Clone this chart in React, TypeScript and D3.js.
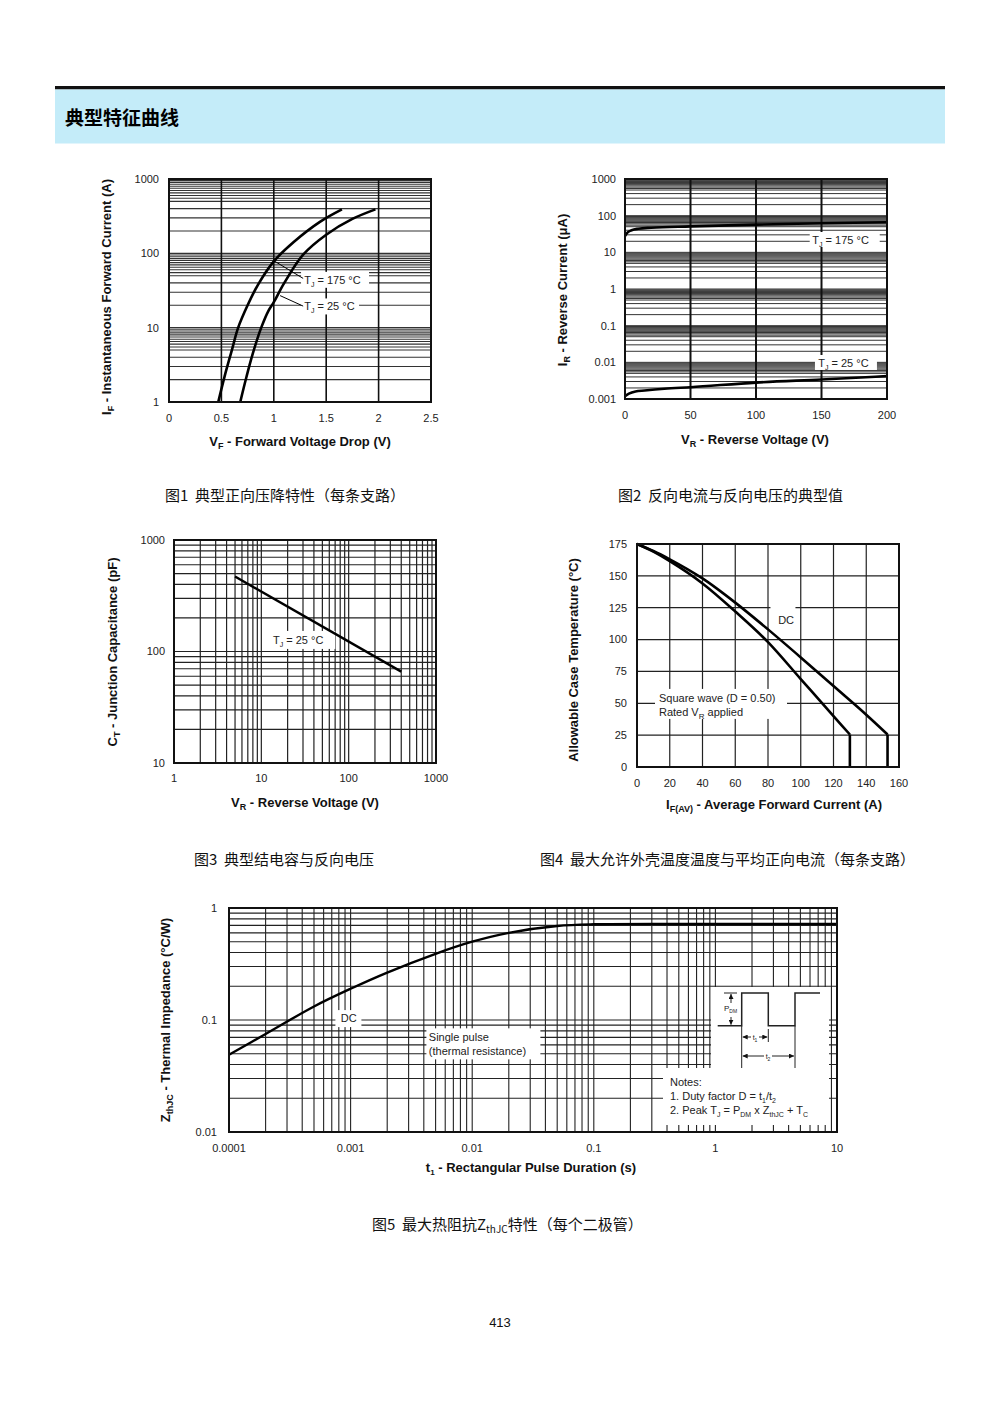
import React from 'react';
import * as d3 from 'd3';

const FONT = '"Liberation Sans", Arial, Helvetica, sans-serif';
const CJK = '"Noto Sans CJK SC", "Noto Sans", sans-serif';

// ---------- Figure 1 : forward characteristics ----------
const fig1XTicks = [0, 0.5, 1, 1.5, 2, 2.5];
const fig1XGrid = [0.5, 1, 1.5, 2];
const fig1YTicks = [1, 10, 100, 1000];
const fig1V175 = [0.47, 0.53, 0.6, 0.66, 0.75, 0.85, 1.0, 1.19, 1.44, 1.65];
const fig1I175 = [1, 2.2, 5, 10, 20, 38, 78, 142, 265, 390];
const fig1V25 = [0.68, 0.74, 0.8, 0.88, 0.95, 1.0, 1.1, 1.28, 1.5, 1.75, 1.97];
const fig1I25 = [1, 2.2, 4.5, 10, 17, 22, 40, 96, 178, 290, 390];

// ---------- Figure 2 : reverse current ----------
const fig2XTicks = [0, 50, 100, 150, 200];
const fig2XGrid = [50, 100, 150];
const fig2YTicks = [0.001, 0.01, 0.1, 1, 10, 100, 1000];
const fig2YLabels = ['0.001', '0.01', '0.1', '1', '10', '100', '1000'];
const fig2V175 = [0, 2, 5, 10, 20, 50, 100, 150, 200];
const fig2I175 = [28, 35, 40, 44, 47, 51, 57, 62, 66];
const fig2V25 = [0, 3, 8, 15, 30, 50, 100, 150, 200];
const fig2I25 = [0.0012, 0.0014, 0.0016, 0.0017, 0.0019, 0.0021, 0.0028, 0.0034, 0.0042];

// ---------- Figure 3 : junction capacitance ----------
const fig3XTicks = [1, 10, 100, 1000];
const fig3YTicks = [10, 100, 1000];
const fig3V = [5, 400];
const fig3C = [470, 66];

// ---------- Figure 4 : case temperature derating ----------
const fig4XTicks = [0, 20, 40, 60, 80, 100, 120, 140, 160];
const fig4YTicks = [0, 25, 50, 75, 100, 125, 150, 175];
const fig4IDC = [0, 10, 20, 40, 60, 80, 100, 120, 140, 153];
const fig4TDC = [175, 169.5, 163, 148, 129, 108, 86, 63.5, 41, 25.5];
const fig4ISQ = [0, 10, 20, 40, 60, 80, 100, 120, 130];
const fig4TSQ = [175, 169, 161.5, 144, 122, 98, 69, 40, 25.5];

// ---------- Figure 5 : thermal impedance ----------
const fig5XTicks = [0.0001, 0.001, 0.01, 0.1, 1, 10];
const fig5XLabels = ['0.0001', '0.001', '0.01', '0.1', '1', '10'];
const fig5YTicks = [0.01, 0.1, 1];
const fig5YLabels = ['0.01', '0.1', '1'];
const fig5T = [0.0001, 0.0002, 0.0005, 0.001, 0.002, 0.005, 0.01, 0.02, 0.05, 0.1, 1, 10];
const fig5Z = [0.049, 0.075, 0.132, 0.19, 0.265, 0.39, 0.5, 0.6, 0.69, 0.715, 0.72, 0.72];

const denseMant = [1, 2, 3, 4, 5, 5.5, 6, 6.5, 7, 7.5, 8, 8.5, 9, 9.5];
const stdMant = [1, 2, 3, 4, 5, 6, 7, 8, 9];

function logGrid(lo: number, hi: number, mant: number[]) {
  const out: number[] = [];
  for (let e = Math.round(Math.log10(lo)); e < Math.round(Math.log10(hi)); e++) {
    mant.forEach((m) => out.push(m * Math.pow(10, e)));
  }
  out.push(hi);
  return out;
}

const zip = (a: number[], b: number[]) => a.map((v, i) => [v, b[i]] as [number, number]);

function HGrid({ vals, y, x0, x1, w = 1, c = '#222' }: any) {
  return (
    <g>
      {vals.map((v: number, i: number) => (
        <line key={i} x1={x0} x2={x1} y1={y(v)} y2={y(v)} stroke={c} strokeWidth={w} />
      ))}
    </g>
  );
}
function VGrid({ vals, x, y0, y1, w = 1, c = '#222' }: any) {
  return (
    <g>
      {vals.map((v: number, i: number) => (
        <line key={i} y1={y0} y2={y1} x1={x(v)} x2={x(v)} stroke={c} strokeWidth={w} />
      ))}
    </g>
  );
}

function TJ({ t }: { t: string }) {
  return (
    <>
      <tspan>T</tspan>
      <tspan fontSize={7} dy={3}>J</tspan>
      <tspan dy={-3}>{` = ${t} °C`}</tspan>
    </>
  );
}

function Box({ x, y, w, h }: any) {
  return <rect x={x} y={y} width={w} height={h} fill="#fff" />;
}

function Frame({ x, y }: { x: any; y: any }) {
  const [a, b] = x.range();
  const [c, d] = y.range();
  return (
    <rect x={a} y={Math.min(c, d)} width={b - a} height={Math.abs(d - c)} fill="none" stroke="#111" strokeWidth={2} />
  );
}

function Fig1() {
  const x = d3.scaleLinear().domain([0, 2.5]).range([169, 431]);
  const y = d3.scaleLog().domain([1, 1000]).range([402, 179]);
  const line = d3.line<[number, number]>().x((d) => x(d[0])).y((d) => y(d[1])).curve(d3.curveCatmullRom.alpha(0.5));
  const [x0, x1] = x.range();
  return (
    <g fontFamily={FONT}>
      <HGrid vals={logGrid(1, 1000, denseMant)} y={y} x0={x0} x1={x1} w={1.1} c="#333" />
      <VGrid vals={fig1XGrid} x={x} y0={179} y1={402} w={1.6} c="#111" />
      <Box x={x(1.26)} y={y(44) - 8} w={68} h={16} />
      <Box x={x(1.26)} y={y(19.3) - 8} w={58} h={16} />
      <path d={line(zip(fig1V175, fig1I175)) || ''} fill="none" stroke="#000" strokeWidth={2.6} />
      <path d={line(zip(fig1V25, fig1I25)) || ''} fill="none" stroke="#000" strokeWidth={2.6} />
      <line x1={x(1.01)} y1={y(78)} x2={x(1.28)} y2={y(46)} stroke="#000" strokeWidth={1} />
      <line x1={x(1.06)} y1={y(27)} x2={x(1.28)} y2={y(19.5)} stroke="#000" strokeWidth={1} />
      <text x={x(1.29)} y={y(44)} dy="0.35em" fontSize={11} fill="#222"><TJ t="175" /></text>
      <text x={x(1.29)} y={y(19.3)} dy="0.35em" fontSize={11} fill="#222"><TJ t="25" /></text>
      <Frame x={x} y={y} />
      {fig1YTicks.map((v) => (
        <text key={v} x={159} y={y(v)} dy="0.35em" textAnchor="end" fontSize={11} fill="#222">{v}</text>
      ))}
      {fig1XTicks.map((v) => (
        <text key={v} x={x(v)} y={418} dy="0.35em" textAnchor="middle" fontSize={11} fill="#222">{v}</text>
      ))}
      <text x={300} y={446} textAnchor="middle" fontSize={13} fontWeight="bold" fill="#111">
        <tspan>V</tspan><tspan fontSize={9} dy={3}>F</tspan><tspan dy={-3}> - Forward Voltage Drop (V)</tspan>
      </text>
      <text transform="translate(111,297) rotate(-90)" textAnchor="middle" fontSize={13} fontWeight="bold" fill="#111">
        <tspan>I</tspan><tspan fontSize={9} dy={3}>F</tspan><tspan dy={-3}> - Instantaneous Forward Current (A)</tspan>
      </text>
    </g>
  );
}

function Fig2() {
  const x = d3.scaleLinear().domain([0, 200]).range([625, 887]);
  const y = d3.scaleLog().domain([0.001, 1000]).range([399, 179]);
  const line = d3.line<[number, number]>().x((d) => x(d[0])).y((d) => y(d[1])).curve(d3.curveMonotoneX);
  const [x0, x1] = x.range();
  return (
    <g fontFamily={FONT}>
      <HGrid vals={logGrid(0.001, 1000, denseMant)} y={y} x0={x0} x1={x1} w={1} c="#333" />
      <VGrid vals={fig2XGrid} x={x} y0={179} y1={399} w={2} c="#111" />
      <Box x={x(141)} y={y(21.7) - 8} w={70} h={15} />
      <Box x={x(145)} y={y(0.0096) - 8} w={62} h={15} />
      <path d={line(zip(fig2V175, fig2I175)) || ''} fill="none" stroke="#000" strokeWidth={2.6} />
      <path d={line(zip(fig2V25, fig2I25)) || ''} fill="none" stroke="#000" strokeWidth={2.6} />
      <text x={x(143)} y={y(21.7)} dy="0.35em" fontSize={11} fill="#222"><TJ t="175" /></text>
      <text x={x(147.5)} y={y(0.0096)} dy="0.35em" fontSize={11} fill="#222"><TJ t="25" /></text>
      <Frame x={x} y={y} />
      {fig2YTicks.map((v, i) => (
        <text key={v} x={616} y={y(v)} dy="0.35em" textAnchor="end" fontSize={11} fill="#222">{fig2YLabels[i]}</text>
      ))}
      {fig2XTicks.map((v) => (
        <text key={v} x={x(v)} y={415} dy="0.35em" textAnchor="middle" fontSize={11} fill="#222">{v}</text>
      ))}
      <text x={755} y={444} textAnchor="middle" fontSize={13} fontWeight="bold" fill="#111">
        <tspan>V</tspan><tspan fontSize={9} dy={3}>R</tspan><tspan dy={-3}> - Reverse Voltage (V)</tspan>
      </text>
      <text transform="translate(567,290) rotate(-90)" textAnchor="middle" fontSize={13} fontWeight="bold" fill="#111">
        <tspan>I</tspan><tspan fontSize={9} dy={3}>R</tspan><tspan dy={-3}> - Reverse Current (μA)</tspan>
      </text>
    </g>
  );
}

function Fig3() {
  const x = d3.scaleLog().domain([1, 1000]).range([174, 436]);
  const y = d3.scaleLog().domain([10, 1000]).range([763, 540]);
  const line = d3.line<[number, number]>().x((d) => x(d[0])).y((d) => y(d[1]));
  const [x0, x1] = x.range();
  return (
    <g fontFamily={FONT}>
      <HGrid vals={logGrid(10, 1000, stdMant)} y={y} x0={x0} x1={x1} w={1.2} c="#222" />
      <VGrid vals={logGrid(1, 1000, stdMant)} x={x} y0={540} y1={763} w={1.2} c="#222" />
      <Box x={x(13)} y={y(127) - 9} w={64} h={18} />
      <path d={line(zip(fig3V, fig3C)) || ''} fill="none" stroke="#000" strokeWidth={2.4} />
      <text x={x(13.6)} y={y(127)} dy="0.35em" fontSize={11} fill="#222"><TJ t="25" /></text>
      <Frame x={x} y={y} />
      {fig3YTicks.map((v) => (
        <text key={v} x={165} y={y(v)} dy="0.35em" textAnchor="end" fontSize={11} fill="#222">{v}</text>
      ))}
      {fig3XTicks.map((v) => (
        <text key={v} x={x(v)} y={778} dy="0.35em" textAnchor="middle" fontSize={11} fill="#222">{v}</text>
      ))}
      <text x={305} y={807} textAnchor="middle" fontSize={13} fontWeight="bold" fill="#111">
        <tspan>V</tspan><tspan fontSize={9} dy={3}>R</tspan><tspan dy={-3}> - Reverse Voltage (V)</tspan>
      </text>
      <text transform="translate(117,652) rotate(-90)" textAnchor="middle" fontSize={13} fontWeight="bold" fill="#111">
        <tspan>C</tspan><tspan fontSize={9} dy={3}>T</tspan><tspan dy={-3}> - Junction Capacitance (pF)</tspan>
      </text>
    </g>
  );
}

function Fig4() {
  const x = d3.scaleLinear().domain([0, 160]).range([637, 899]);
  const y = d3.scaleLinear().domain([0, 175]).range([767, 544]);
  const line = d3.line<[number, number]>().x((d) => x(d[0])).y((d) => y(d[1])).curve(d3.curveMonotoneX);
  const [x0, x1] = x.range();
  const drop = (I: number[], T: number[]) => {
    const i = I[I.length - 1];
    return `M${x(i)},${y(T[T.length - 1])}L${x(i)},${y(0)}`;
  };
  return (
    <g fontFamily={FONT}>
      <HGrid vals={fig4YTicks} y={y} x0={x0} x1={x1} w={1.2} c="#222" />
      <VGrid vals={fig4XTicks} x={x} y0={544} y1={767} w={1.2} c="#222" />
      <Box x={x(81.5)} y={y(120.5) - 9} w={25} h={18} />
      <Box x={x(11)} y={y(55) - 8} w={132} h={30} />
      <path d={line(zip(fig4IDC, fig4TDC)) || ''} fill="none" stroke="#000" strokeWidth={2.6} />
      <path d={drop(fig4IDC, fig4TDC)} fill="none" stroke="#000" strokeWidth={2.6} />
      <path d={line(zip(fig4ISQ, fig4TSQ)) || ''} fill="none" stroke="#000" strokeWidth={2.6} />
      <path d={drop(fig4ISQ, fig4TSQ)} fill="none" stroke="#000" strokeWidth={2.6} />
      <text x={x(86.2)} y={y(115.3)} dy="0.35em" fontSize={11} fill="#222">DC</text>
      <text x={x(13.4)} y={y(54)} dy="0.35em" fontSize={11} fill="#222">Square wave (D = 0.50)</text>
      <text x={x(13.4)} y={y(43)} dy="0.35em" fontSize={11} fill="#222">
        <tspan>Rated V</tspan><tspan fontSize={8} dy={3}>R</tspan><tspan dy={-3}> applied</tspan>
      </text>
      <Frame x={x} y={y} />
      {fig4YTicks.map((v) => (
        <text key={v} x={627} y={y(v)} dy="0.35em" textAnchor="end" fontSize={11} fill="#222">{v}</text>
      ))}
      {fig4XTicks.map((v) => (
        <text key={v} x={x(v)} y={783} dy="0.35em" textAnchor="middle" fontSize={11} fill="#222">{v}</text>
      ))}
      <text x={774} y={809} textAnchor="middle" fontSize={13} fontWeight="bold" fill="#111">
        <tspan>I</tspan><tspan fontSize={9} dy={3}>F(AV)</tspan><tspan dy={-3}> - Average Forward Current (A)</tspan>
      </text>
      <text transform="translate(578,660) rotate(-90)" textAnchor="middle" fontSize={13} fontWeight="bold" fill="#111">
        Allowable Case Temperature (°C)
      </text>
    </g>
  );
}

function Fig5() {
  const x = d3.scaleLog().domain([0.0001, 10]).range([229, 837]);
  const y = d3.scaleLog().domain([0.01, 1]).range([1132, 908]);
  const line = d3.line<[number, number]>().x((d) => x(d[0])).y((d) => y(d[1])).curve(d3.curveCatmullRom.alpha(0.5));
  const [x0, x1] = x.range();
  // inset boxes (pulse diagram + notes)
  const bx0 = 711, by0 = 987, bx1 = 829, by1 = 1068, nx0 = 663, ny1 = 1125;
  const lo = 1025.7, hi = 993;
  const xa = 741.7, xb = 768.3, xc = 795;
  return (
    <g fontFamily={FONT}>
      <defs>
        <marker id="ar" viewBox="0 0 6 6" refX="6" refY="3" markerWidth="5" markerHeight="5" orient="auto-start-reverse">
          <path d="M0,0L6,3L0,6Z" fill="#111" />
        </marker>
      </defs>
      <HGrid vals={logGrid(0.01, 1, stdMant)} y={y} x0={x0} x1={x1} w={1.1} c="#222" />
      <VGrid vals={logGrid(0.0001, 10, stdMant)} x={x} y0={908} y1={1132} w={1.1} c="#222" />
      <Box x={x(0.00075)} y={y(0.104) - 8} w={26} h={17} />
      <Box x={x(0.0042)} y={y(0.07) - 9} w={114} h={31} />
      <rect x={bx0} y={by0} width={bx1 - bx0} height={by1 - by0} fill="#fff" />
      <rect x={nx0} y={by1} width={bx1 - nx0} height={ny1 - by1} fill="#fff" />
      <path d={line(zip(fig5T, fig5Z)) || ''} fill="none" stroke="#000" strokeWidth={2.4} />
      <text x={x(0.00083)} y={y(0.104)} dy="0.35em" fontSize={11} fill="#222">DC</text>
      <text x={x(0.0044)} y={y(0.0705)} dy="0.35em" fontSize={11} fill="#222">Single pulse</text>
      <text x={x(0.0044)} y={y(0.053)} dy="0.35em" fontSize={11} fill="#222">(thermal resistance)</text>
      {/* pulse diagram */}
      <path d={`M717.7,${lo}H${xa}V${hi}H${xb}V${lo}H${xc}V${hi}H820`} fill="none" stroke="#222" strokeWidth={1.5} />
      <line x1={724} x2={737} y1={hi} y2={hi} stroke="#222" strokeWidth={1} />
      <line x1={731} x2={731} y1={hi + 1} y2={lo - 1} stroke="#222" strokeWidth={1} markerStart="url(#ar)" markerEnd="url(#ar)" />
      <rect x={724} y={1003} width={14} height={14} fill="#fff" />
      <text x={724} y={1011} fontSize={8} fill="#222">P<tspan fontSize={5} dy={2}>DM</tspan></text>
      <line x1={xa} x2={xa} y1={lo} y2={1068} stroke="#222" strokeWidth={1} />
      <line x1={xb} x2={xb} y1={1029} y2={1042} stroke="#222" strokeWidth={1} />
      <line x1={xc} x2={xc} y1={lo} y2={1068} stroke="#222" strokeWidth={1} />
      <line x1={xa + 1} x2={751} y1={1037} y2={1037} stroke="#222" strokeWidth={1} markerStart="url(#ar)" />
      <line x1={759} x2={xb - 1} y1={1037} y2={1037} stroke="#222" strokeWidth={1} markerEnd="url(#ar)" />
      <text x={755} y={1040} fontSize={7} textAnchor="middle" fill="#222">t<tspan fontSize={5} dy={1.5}>1</tspan></text>
      <line x1={xa + 1} x2={764} y1={1056} y2={1056} stroke="#222" strokeWidth={1} markerStart="url(#ar)" />
      <line x1={772} x2={xc - 1} y1={1056} y2={1056} stroke="#222" strokeWidth={1} markerEnd="url(#ar)" />
      <text x={768} y={1059} fontSize={7} textAnchor="middle" fill="#222">t<tspan fontSize={5} dy={1.5}>2</tspan></text>
      {/* notes */}
      <text x={670} y={1082} dy="0.35em" fontSize={11} fill="#222">Notes:</text>
      <text x={670} y={1096} dy="0.35em" fontSize={11} fill="#222">
        1. Duty factor D = t<tspan fontSize={7} dy={3}>1</tspan><tspan dy={-3}>/t</tspan><tspan fontSize={7} dy={3}>2</tspan>
      </text>
      <text x={670} y={1110} dy="0.35em" fontSize={11} fill="#222">
        2. Peak T<tspan fontSize={7} dy={3}>J</tspan><tspan dy={-3}> = P</tspan><tspan fontSize={7} dy={3}>DM</tspan>
        <tspan dy={-3}> x Z</tspan><tspan fontSize={7} dy={3}>thJC</tspan><tspan dy={-3}> + T</tspan><tspan fontSize={7} dy={3}>C</tspan>
      </text>
      <Frame x={x} y={y} />
      {fig5YTicks.map((v, i) => (
        <text key={v} x={217} y={y(v)} dy="0.35em" textAnchor="end" fontSize={11} fill="#222">{fig5YLabels[i]}</text>
      ))}
      {fig5XTicks.map((v, i) => (
        <text key={v} x={x(v)} y={1148} dy="0.35em" textAnchor="middle" fontSize={11} fill="#222">{fig5XLabels[i]}</text>
      ))}
      <text x={531} y={1172} textAnchor="middle" fontSize={13} fontWeight="bold" fill="#111">
        <tspan>t</tspan><tspan fontSize={8} dy={3}>1</tspan><tspan dy={-3}> - Rectangular Pulse Duration (s)</tspan>
      </text>
      <text transform="translate(170,1020) rotate(-90)" textAnchor="middle" fontSize={13} fontWeight="bold" fill="#111">
        <tspan>Z</tspan><tspan fontSize={9} dy={3}>thJC</tspan><tspan dy={-3}> - Thermal Impedance (°C/W)</tspan>
      </text>
    </g>
  );
}

export default function App() {
  return (
    <svg width={1000} height={1414} viewBox="0 0 1000 1414" style={{ position: 'absolute', left: 0, top: 0, background: '#fff' }}>
      <rect x={0} y={0} width={1000} height={1414} fill="#fff" />
      <rect x={55} y={86} width={890} height={3.5} fill="#111" />
      <rect x={55} y={89.5} width={890} height={54} fill="#c4ecf9" />
      <text x={65} y={125} fontFamily={CJK} fontSize={19} fontWeight="bold" fill="#000">典型特征曲线</text>
      <Fig1 />
      <Fig2 />
      <Fig3 />
      <Fig4 />
      <Fig5 />
      <g fontFamily={CJK} fontSize={15} fill="#111">
        <text x={165} y={501}>{'图1\u00a0 典型正向压降特性（每条支路）'}</text>
        <text x={618} y={501}>{'图2\u00a0 反向电流与反向电压的典型值'}</text>
        <text x={194} y={865}>{'图3\u00a0 典型结电容与反向电压'}</text>
        <text x={540} y={865}>{'图4\u00a0 最大允许外壳温度温度与平均正向电流（每条支路）'}</text>
        <text x={372} y={1230}>
          {'图5\u00a0 最大热阻抗Z'}<tspan fontSize={10} dy={3}>thJC</tspan><tspan dy={-3}>特性（每个二极管）</tspan>
        </text>
      </g>
      <text x={500} y={1327} textAnchor="middle" fontFamily={FONT} fontSize={13} fill="#111">413</text>
    </svg>
  );
}
